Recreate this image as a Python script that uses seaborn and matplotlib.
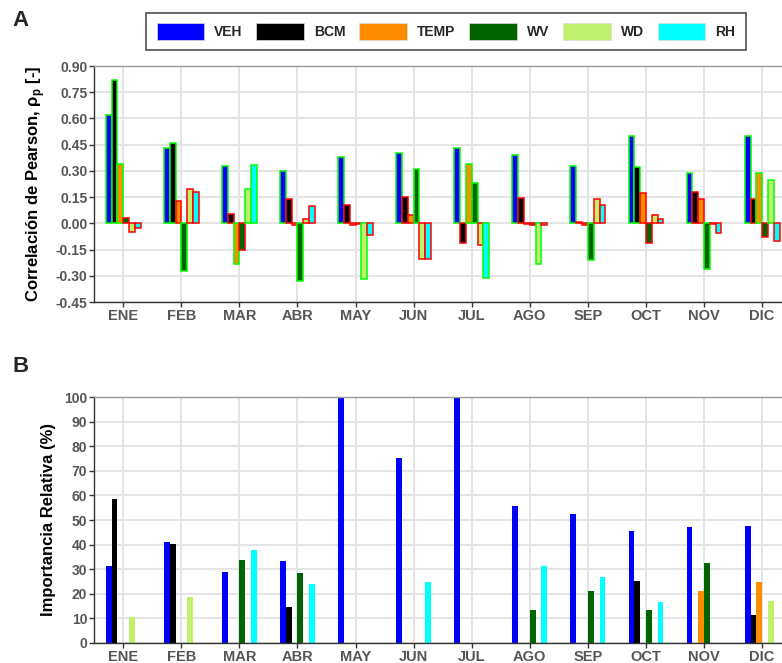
import numpy as np
import pandas as pd
import matplotlib
matplotlib.use("Agg")
import matplotlib.pyplot as plt
import seaborn as sns
from matplotlib.patches import Patch

months = ['ENE', 'FEB', 'MAR', 'ABR', 'MAY', 'JUN', 'JUL', 'AGO', 'SEP', 'OCT', 'NOV', 'DIC']
variables = ['VEH', 'BCM', 'TEMP', 'WV', 'WD', 'RH']
colors = ['#0000ff', '#000000', '#ff8c00', '#006400', '#c1f06c', '#00ffff']

# Panel A: Pearson correlation
r_veh = [0.62, 0.43, 0.33, 0.30, 0.38, 0.40, 0.43, 0.39, 0.33, 0.50, 0.29, 0.50]
r_bcm = [0.82, 0.46, 0.055, 0.14, 0.105, 0.15, -0.11, 0.145, 0.005, 0.32, 0.18, 0.14]
r_temp = [0.34, 0.125, -0.23, -0.01, -0.012, 0.05, 0.34, -0.005, -0.01, 0.175, 0.14, 0.29]
r_wv = [0.028, -0.27, -0.15, -0.33, -0.005, 0.31, 0.23, -0.01, -0.21, -0.11, -0.26, -0.08]
r_wd = [-0.05, 0.195, 0.195, 0.025, -0.32, -0.205, -0.125, -0.23, 0.137, 0.046, -0.005, 0.25]
r_rh = [-0.025, 0.178, 0.335, 0.10, -0.065, -0.205, -0.31, -0.01, 0.104, 0.025, -0.053, -0.10]

# significance (1 = significant, green edge; 0 = red edge)
s_veh = [1, 1, 1, 1, 1, 1, 1, 1, 1, 1, 1, 1]
s_bcm = [1, 1, 0, 0, 0, 0, 0, 0, 0, 1, 0, 0]
s_temp = [1, 0, 1, 0, 0, 0, 1, 0, 0, 0, 0, 1]
s_wv = [0, 1, 0, 1, 0, 1, 1, 0, 1, 0, 1, 0]
s_wd = [0, 0, 1, 0, 1, 0, 0, 1, 0, 0, 0, 1]
s_rh = [0, 0, 1, 0, 0, 0, 1, 0, 0, 0, 0, 0]

# Panel B: relative importance (%)
i_veh = [31.1, 41.0, 28.8, 33.3, 100, 75.3, 100, 55.8, 52.3, 45.7, 47.0, 47.6]
i_bcm = [58.6, 40.2, 0, 14.7, 0, 0, 0, 0, 0, 25.1, 0, 11.1]
i_temp = [0, 0, 0, 0, 0, 0, 0, 0, 0, 0, 20.9, 24.7]
i_wv = [0, 0, 33.6, 28.5, 0, 0, 0, 13.2, 20.9, 13.2, 32.3, 0]
i_wd = [10.5, 18.6, 0, 0, 0, 0, 0, 0, 0, 0, 0, 16.8]
i_rh = [0, 0, 37.8, 23.8, 0, 24.9, 0, 31.2, 26.9, 16.4, 0, 0]

yticksA = ['-0.45', '-0.30', '-0.15', '0.00', '0.15', '0.30', '0.45', '0.60', '0.75', '0.90']
yticksB = ['0', '10', '20', '30', '40', '50', '60', '70', '80', '90', '100']

r_all = [r_veh, r_bcm, r_temp, r_wv, r_wd, r_rh]
s_all = [s_veh, s_bcm, s_temp, s_wv, s_wd, s_rh]
i_all = [i_veh, i_bcm, i_temp, i_wv, i_wd, i_rh]

def long_df(series):
    rows = []
    for v, vals in zip(variables, series):
        for m, val in zip(months, vals):
            rows.append({'mes': m, 'var': v, 'val': val})
    return pd.DataFrame(rows)

dfA = long_df(r_all)
dfB = long_df(i_all)

sns.set_theme(style="whitegrid")
plt.rcParams['font.family'] = ['Liberation Sans', 'DejaVu Sans']
plt.rcParams['mathtext.fontset'] = 'custom'
plt.rcParams['mathtext.rm'] = 'Liberation Sans'

fig = plt.figure(figsize=(7.82, 6.63), dpi=100)
W = 697 / 782
axA = fig.add_axes([94.2 / 782, (663 - 302) / 663, W, 236 / 663])
axB = fig.add_axes([94.2 / 782, (663 - 642.7) / 663, W, 245.4 / 663])

pal = dict(zip(variables, colors))

sns.barplot(data=dfA, x='mes', y='val', hue='var', order=months, hue_order=variables,
            palette=pal, width=0.6, ax=axA, legend=False, errorbar=None, saturation=1)
sns.barplot(data=dfB, x='mes', y='val', hue='var', order=months, hue_order=variables,
            palette=pal, width=0.6, ax=axB, legend=False, errorbar=None, saturation=1)

# edges for panel A
sig_flat = [s for ser in s_all for s in ser]
for p, s in zip(axA.patches, sig_flat):
    p.set_edgecolor('#00ff00' if s else '#ff0000')
    p.set_linewidth(1.1)
for p in axB.patches:
    p.set_edgecolor('none')
    p.set_linewidth(0)

grid_c = '#e4e4e4'
for ax in (axA, axB):
    ax.set_xlim(-0.5, 11.5)
    ax.grid(True, color=grid_c, linewidth=1.4)
    ax.set_axisbelow(True)
    ax.set_xlabel('')
    ax.spines['left'].set_color('#333333')
    ax.spines['bottom'].set_color('#333333')
    ax.spines['top'].set_color('#999999')
    ax.spines['right'].set_visible(False)
    for sp in ('left', 'bottom', 'top'):
        ax.spines[sp].set_linewidth(1.0)
    ax.tick_params(axis='both', which='both', length=3.5, width=1, color='#333333',
                   labelcolor='#555555', labelsize=10, pad=1.5, bottom=True, left=True)

axA.set_ylim(-0.45, 0.90)
axA.set_yticks([float(t) for t in yticksA])
axA.set_yticklabels(yticksA)
axA.set_ylabel(r'Correlación de Pearson, ρ$_\mathregular{p}$ [-]', fontsize=12,
               fontweight='bold', color='black', labelpad=6)

axB.set_ylim(0, 100)
axB.set_yticks([float(t) for t in yticksB])
axB.set_yticklabels(yticksB)
axB.set_ylabel('Importancia Relativa (%)', fontsize=12, fontweight='bold',
               color='black', labelpad=6)

for ax in (axA, axB):
    for lab in ax.get_yticklabels():
        lab.set_fontweight('bold')
    for lab in ax.get_xticklabels():
        lab.set_fontweight('bold')
        lab.set_fontsize(10.5)

fig.text(12 / 782, 1 - 20 / 663, 'A', fontsize=16, fontweight='bold', va='center', ha='left')
fig.text(12 / 782, 1 - 366 / 663, 'B', fontsize=16, fontweight='bold', va='center', ha='left')

handles = [Patch(facecolor=c, edgecolor='#dddddd', linewidth=0.5, label=v)
           for v, c in zip(variables, colors)]
leg = fig.legend(handles=handles, loc='center', bbox_to_anchor=(446 / 782, 1 - 31.5 / 663),
                 ncol=6, frameon=True, fancybox=False, edgecolor='#222222',
                 handlelength=3.4, handleheight=1.4, handletextpad=0.75, columnspacing=1.0,
                 borderpad=0.75, prop={'weight': 'bold', 'size': 10})
leg.get_frame().set_linewidth(1.2)

fig.savefig('out.png', dpi=100)
